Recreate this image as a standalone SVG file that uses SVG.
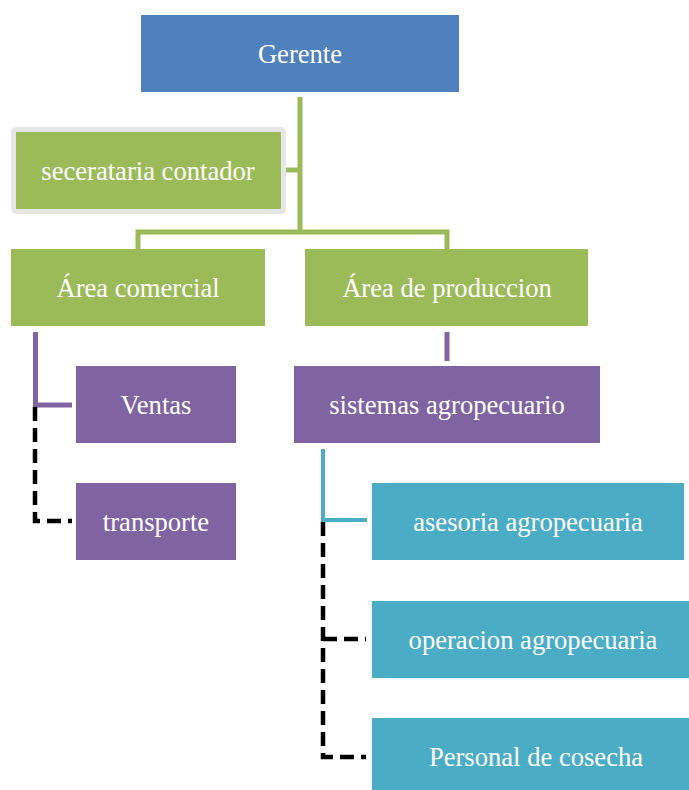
<svg xmlns="http://www.w3.org/2000/svg" width="689" height="790" viewBox="0 0 689 790">
<style>
.t{font-family:"Liberation Serif","Times New Roman",serif;font-size:26.6px;fill:#FFFFFF;text-anchor:middle}
.blue{fill:#4F81BD}
.green{fill:#9BBB59}
.purple{fill:#8064A2}
.aqua{fill:#4BACC6}
.cg{stroke:#9BBB59;stroke-width:5;fill:none}
.cp{stroke:#8064A2;stroke-width:5;fill:none}
.ca{stroke:#4BACC6;stroke-width:4;fill:none}
.cd{stroke:#000000;stroke-width:4.5;fill:none;stroke-dasharray:14,7}
</style>
<rect width="689" height="790" fill="#FFFFFF"/>
<g id="connectors">
<path class="cg" d="M300,97 V232"/>
<path class="cg" d="M286,170 H300"/>
<path class="cg" d="M138,249 V232 H447 V249"/>
<path class="cp" d="M35.5,332 V405 H72"/>
<path class="cd" d="M35,407 V521 H72"/>
<path class="cp" d="M447,332 V361"/>
<path class="ca" d="M323,449 V520 H367"/>
<path class="cd" d="M323,522 V757 H366"/>
<path class="cd" d="M323,639 H366"/>
</g>
<g id="gerente"><rect class="blue" x="141" y="15" width="318" height="77"/><text class="t" x="300" y="63">Gerente</text></g>
<g id="secretaria"><rect x="13.5" y="129.5" width="270" height="82" rx="3" fill="#9BBB59" stroke="#E6E6E6" stroke-width="5"/><text class="t" x="148" y="180">secerataria contador</text></g>
<g id="area-comercial"><rect class="green" x="11" y="249" width="254" height="77"/><text class="t" x="138" y="297">Área comercial</text></g>
<g id="area-produccion"><rect class="green" x="305" y="249" width="283" height="77"/><text class="t" x="447" y="297">Área de produccion</text></g>
<g id="ventas"><rect class="purple" x="76" y="366" width="160" height="77"/><text class="t" x="156" y="414">Ventas</text></g>
<g id="transporte"><rect class="purple" x="76" y="483" width="160" height="77"/><text class="t" x="156" y="531">transporte</text></g>
<g id="sistemas"><rect class="purple" x="294" y="366" width="306" height="77"/><text class="t" x="447" y="414">sistemas agropecuario</text></g>
<g id="asesoria"><rect class="aqua" x="372" y="483" width="312" height="77"/><text class="t" x="528" y="531">asesoria agropecuaria</text></g>
<g id="operacion"><rect class="aqua" x="372" y="601" width="317" height="77"/><text class="t" x="533" y="649">operacion agropecuaria</text></g>
<g id="personal"><rect class="aqua" x="372" y="718" width="317" height="77"/><text class="t" x="536" y="766">Personal de cosecha</text></g>
</svg>
